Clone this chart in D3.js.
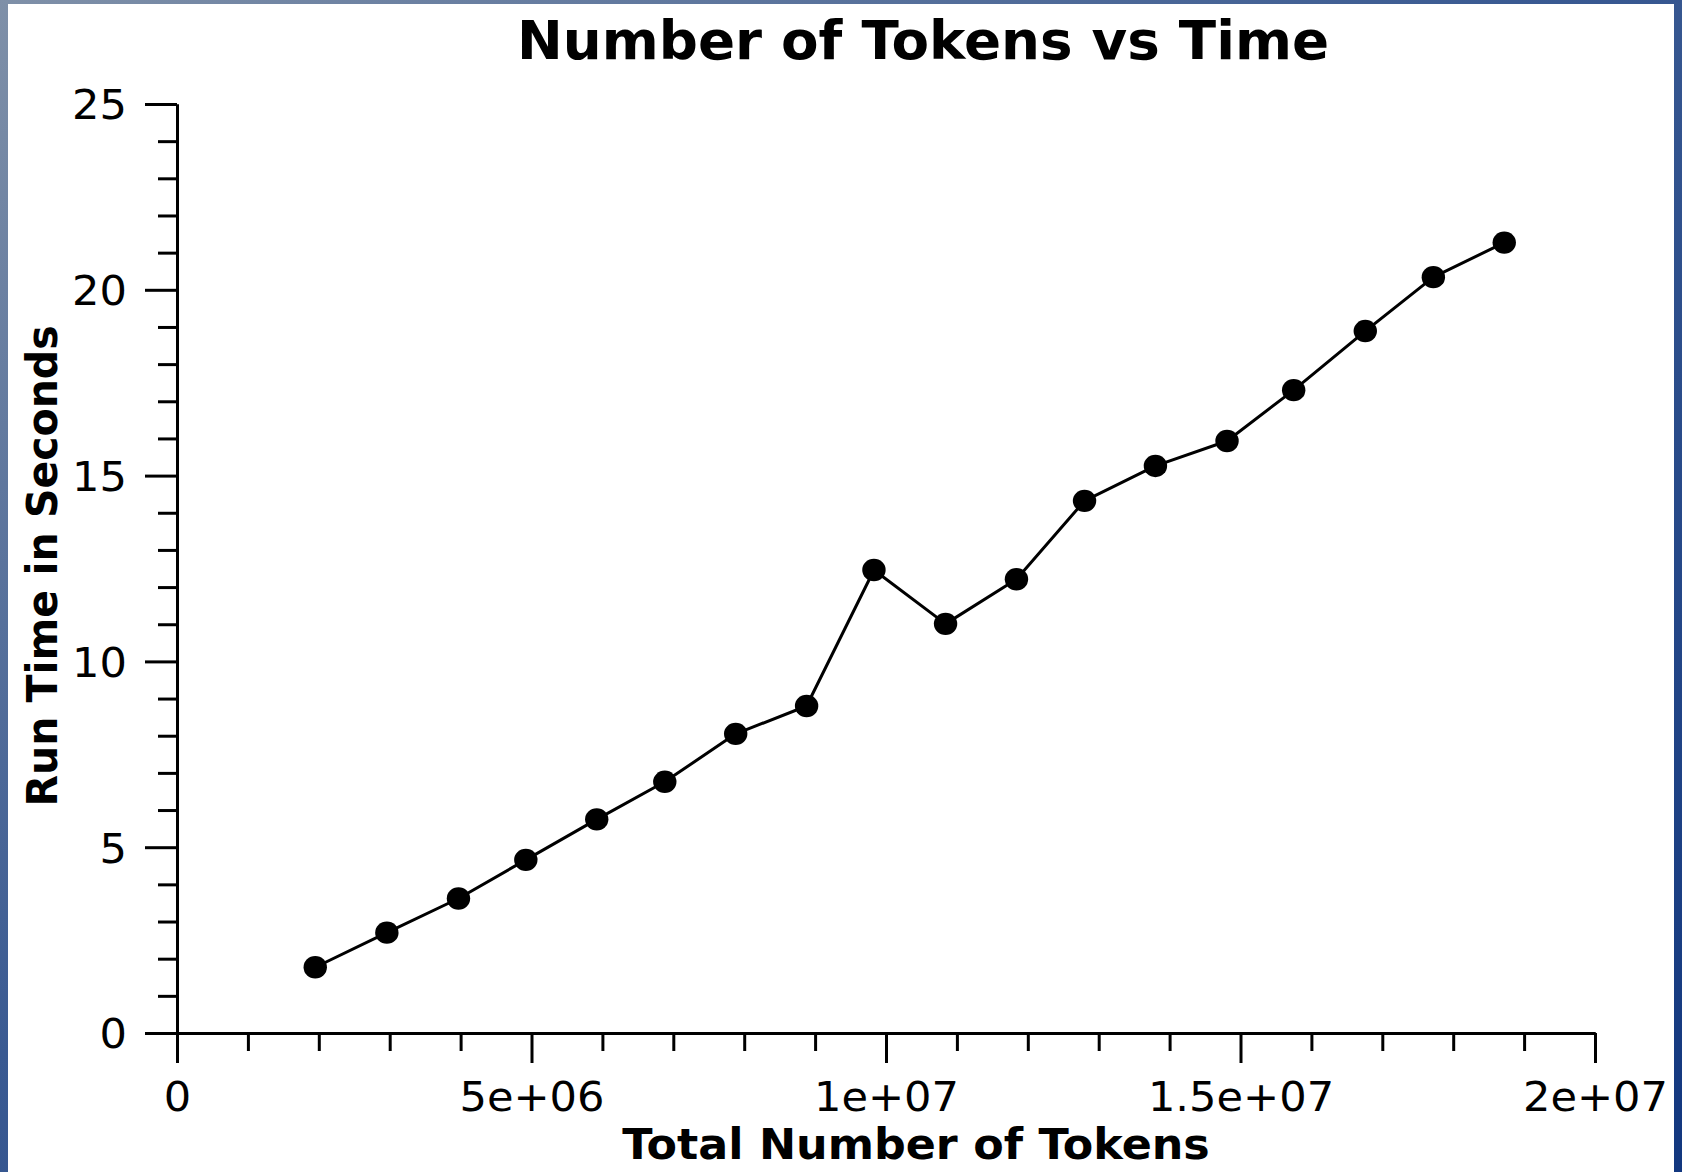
<!DOCTYPE html>
<html>
<head>
<meta charset="utf-8">
<script src="https://cdn.jsdelivr.net/npm/d3@7"></script>
<style>
  html, body { margin: 0; padding: 0; background: #ffffff; }
  svg { display: block; }
  text { font-family: "DejaVu Sans", sans-serif; fill: #000; }
</style>
</head>
<body>
<svg id="chart" width="1682" height="1172"></svg>
<script>
// Benchmark: total tokens processed vs. run time
const tokens = [1.95e6, 2.96e6, 3.97e6, 4.92e6, 5.92e6, 6.88e6, 7.88e6, 8.88e6, 9.83e6,
                10.84e6, 11.84e6, 12.80e6, 13.80e6, 14.81e6, 15.75e6, 16.76e6, 17.72e6, 18.72e6];
const seconds = [1.77, 2.70, 3.62, 4.66, 5.75, 6.76, 8.05, 8.80, 12.46,
                 11.01, 12.21, 14.32, 15.26, 15.93, 17.30, 18.89, 20.34, 21.27];

const xMajorTicks = [0, 5e6, 1e7, 1.5e7, 2e7];
const xTickLabels = ["0", "5e+06", "1e+07", "1.5e+07", "2e+07"];
const yMajorTicks = [0, 5, 10, 15, 20, 25];
const yTickLabels = ["0", "5", "10", "15", "20", "25"];

const titleText = "Number of Tokens vs Time";
const xLabelText = "Total Number of Tokens";
const yLabelText = "Run Time in Seconds";

const W = 1682, H = 1172;
const plot = { left: 177, right: 1595, top: 104, bottom: 1033 };
const stretch = 1.04;   // glyphs are drawn slightly wide

const svg = d3.select("#chart");

// framed slide background
const defs = svg.append("defs");
const grad = defs.append("linearGradient")
  .attr("id", "frame").attr("x1", "0%").attr("y1", "0%").attr("x2", "100%").attr("y2", "100%");
grad.append("stop").attr("offset", "0%").attr("stop-color", "#7f90a8");
grad.append("stop").attr("offset", "45%").attr("stop-color", "#3a5a92");
grad.append("stop").attr("offset", "100%").attr("stop-color", "#12377f");
svg.append("rect").attr("width", W).attr("height", H).attr("fill", "url(#frame)");
svg.append("rect").attr("x", 8).attr("y", 4).attr("width", 1666).attr("height", H - 4).attr("fill", "#ffffff");

const x = d3.scaleLinear().domain([0, 2e7]).range([plot.left, plot.right]);
const y = d3.scaleLinear().domain([0, 25]).range([plot.bottom, plot.top]);

// minor ticks
const xMinor = d3.range(0, 2e7 + 1, 1e6).filter(v => !xMajorTicks.includes(v));
const yMinor = d3.range(0, 26, 1).filter(v => !yMajorTicks.includes(v));

const gxMinor = svg.append("g").attr("transform", `translate(0,${plot.bottom})`)
  .call(d3.axisBottom(x).tickValues(xMinor).tickSize(18).tickSizeOuter(0).tickFormat(""));
const gyMinor = svg.append("g").attr("transform", `translate(${plot.left},0)`)
  .call(d3.axisLeft(y).tickValues(yMinor).tickSize(19).tickSizeOuter(0).tickFormat(""));

const gx = svg.append("g").attr("transform", `translate(0,${plot.bottom})`)
  .call(d3.axisBottom(x).tickValues(xMajorTicks).tickSize(30).tickSizeOuter(0).tickPadding(17)
    .tickFormat((d, i) => xTickLabels[i]));
const gy = svg.append("g").attr("transform", `translate(${plot.left},0)`)
  .call(d3.axisLeft(y).tickValues(yMajorTicks).tickSize(32).tickSizeOuter(0).tickPadding(18)
    .tickFormat((d, i) => yTickLabels[i]));

[gxMinor, gyMinor, gx, gy].forEach(g => {
  g.selectAll("path.domain").attr("stroke", "#000").attr("stroke-width", 3);
  g.selectAll(".tick line").attr("stroke", "#000").attr("stroke-width", 3);
  g.selectAll(".tick text").attr("font-size", 41.5).attr("font-family", "DejaVu Sans").attr("fill", "#000");
});
gx.selectAll(".tick text").attr("dy", "0.74em").attr("transform", `scale(${stretch},1)`);
gy.selectAll(".tick text").attr("dy", "0.36em")
  .attr("x", -(32 + 18) / stretch).attr("transform", `scale(${stretch},1)`);

// series line and markers
const line = d3.line().x((d, i) => x(tokens[i])).y(d => y(d));
svg.append("path").datum(seconds)
  .attr("d", line).attr("fill", "none").attr("stroke", "#000").attr("stroke-width", 3)
  .attr("stroke-linejoin", "round");

svg.append("g").selectAll("ellipse").data(seconds).join("ellipse")
  .attr("cx", (d, i) => x(tokens[i])).attr("cy", d => y(d))
  .attr("rx", 11.7).attr("ry", 11.2).attr("fill", "#000");

// titles
svg.append("text").attr("transform", `translate(923,59) scale(${stretch},1)`).attr("text-anchor", "middle")
  .attr("font-size", 52.6).attr("font-weight", "bold").text(titleText);
svg.append("text").attr("transform", `translate(916,1159) scale(${stretch},1)`).attr("text-anchor", "middle")
  .attr("font-size", 42.7).attr("font-weight", "bold").text(xLabelText);
svg.append("text").attr("transform", `translate(57,566) scale(${stretch},1) rotate(-90)`).attr("text-anchor", "middle")
  .attr("font-size", 41).attr("font-weight", "bold").text(yLabelText);
</script>
</body>
</html>
